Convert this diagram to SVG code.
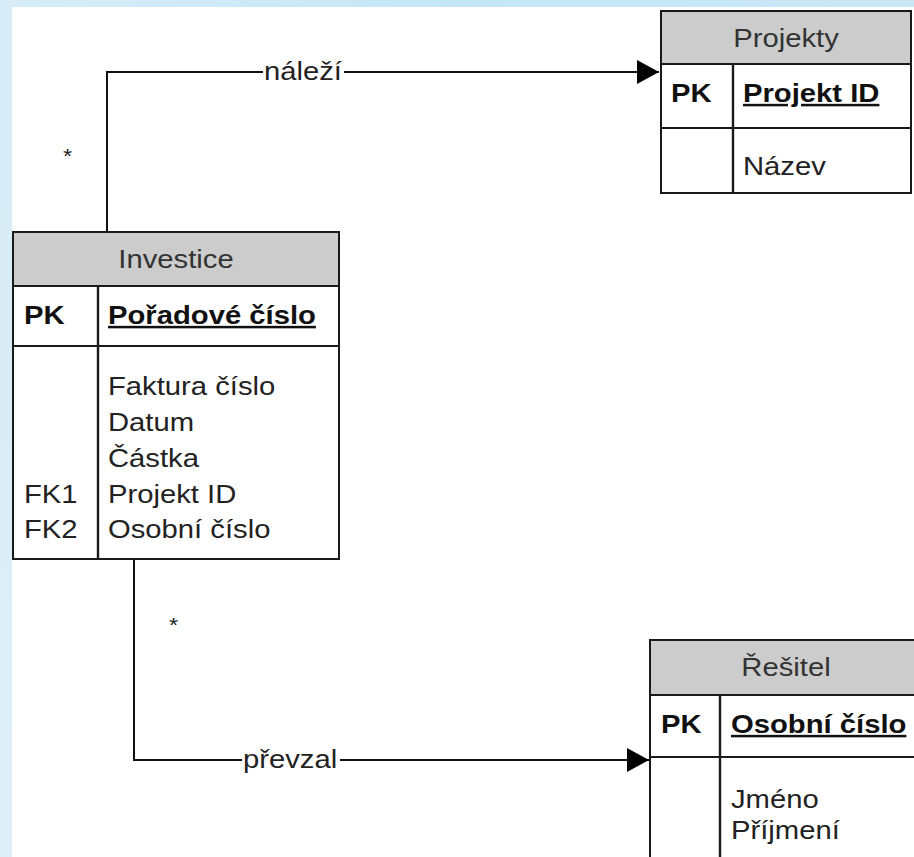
<svg xmlns="http://www.w3.org/2000/svg" width="914" height="857" viewBox="0 0 914 857">
<defs>
<linearGradient id="topbg" x1="0" y1="0" x2="1" y2="0">
<stop offset="0" stop-color="#d6edf8"/><stop offset="0.5" stop-color="#c4e7f6"/><stop offset="1" stop-color="#c9e8f6"/>
</linearGradient>
<linearGradient id="leftbg" x1="0" y1="0" x2="0" y2="1">
<stop offset="0" stop-color="#d8edf8"/><stop offset="1" stop-color="#ddeef6"/>
</linearGradient>
<marker id="arrow" markerUnits="userSpaceOnUse" markerWidth="24" markerHeight="26" refX="22" refY="12" orient="auto">
<polygon points="0,0 22,12 0,24" fill="#000"/>
</marker>
<style>
text{font-family:"Liberation Sans",Arial,sans-serif;fill:#222;font-size:25px;transform-box:fill-box;transform-origin:0% 50%;transform:scaleX(1.17);}
.hdr{fill:#cccccc;stroke:none;}
.box{fill:#fff;stroke:#1a1a1a;stroke-width:2;}
.ln{stroke:#1a1a1a;stroke-width:2;fill:none;}
.vl{stroke:#1a1a1a;stroke-width:2.4;fill:none;}
.title{text-anchor:middle;fill:#333;transform-origin:50% 50%;}
.pk{font-weight:bold;fill:#111;}
.key{font-weight:bold;text-decoration:underline;fill:#111;}
.fld{fill:#222;}
.conn{stroke:#111;stroke-width:2;fill:none;}
.lbl{fill:#222;}
.mult{font-size:20px;fill:#222;}
</style>
</defs>
<rect x="0" y="0" width="914" height="857" fill="#fff"/>
<rect x="0" y="0" width="914" height="7" fill="url(#topbg)"/>
<rect x="0" y="0" width="12" height="857" fill="url(#leftbg)"/>

<g id="connectors">
<path class="conn" d="M107,232 V72 H659" marker-end="url(#arrow)"/>
<rect x="263" y="56" width="81" height="30" fill="#fff"/>
<text class="lbl" x="264" y="80">náleží</text>
<text class="mult" x="63" y="163">*</text>
<path class="conn" d="M134,559 V760 H649" marker-end="url(#arrow)"/>
<rect x="242" y="744" width="98" height="30" fill="#fff"/>
<text class="lbl" x="243" y="768">převzal</text>
<text class="mult" x="169" y="632">*</text>
</g>

<g id="projekty">
<rect class="box" x="661" y="11" width="250" height="182"/>
<rect class="hdr" x="662" y="12" width="248" height="52"/>
<line class="ln" x1="661" y1="64" x2="911" y2="64"/>
<line class="ln" x1="661" y1="128" x2="911" y2="128"/>
<line class="vl" x1="733" y1="64" x2="733" y2="193"/>
<rect x="661" y="11" width="250" height="182" fill="none" stroke="#1a1a1a" stroke-width="2"/>
<text class="title" x="786" y="47">Projekty</text>
<text class="pk" x="671" y="102">PK</text>
<text class="key" x="743" y="102">Projekt ID</text>
<text class="fld" x="743" y="175">Název</text>
</g>

<g id="investice">
<rect class="box" x="13" y="232" width="326" height="327"/>
<rect class="hdr" x="14" y="233" width="324" height="53"/>
<line class="ln" x1="13" y1="286" x2="339" y2="286"/>
<line class="ln" x1="13" y1="346" x2="339" y2="346"/>
<line class="vl" x1="98" y1="286" x2="98" y2="559"/>
<rect x="13" y="232" width="326" height="327" fill="none" stroke="#1a1a1a" stroke-width="2"/>
<text class="title" x="176" y="268">Investice</text>
<text class="pk" x="24" y="324">PK</text>
<text class="key" x="108" y="324">Pořadové číslo</text>
<text class="fld" x="108" y="395">Faktura číslo</text>
<text class="fld" x="108" y="431">Datum</text>
<text class="fld" x="108" y="467">Částka</text>
<text class="fld" x="24" y="503">FK1</text>
<text class="fld" x="108" y="503">Projekt ID</text>
<text class="fld" x="24" y="538">FK2</text>
<text class="fld" x="108" y="538">Osobní číslo</text>
</g>

<g id="resitel">
<rect class="box" x="650" y="640" width="280" height="240"/>
<rect class="hdr" x="651" y="641" width="278" height="54"/>
<line class="ln" x1="650" y1="695" x2="930" y2="695"/>
<line class="ln" x1="650" y1="757" x2="930" y2="757"/>
<line class="vl" x1="720" y1="695" x2="720" y2="880"/>
<rect x="650" y="640" width="280" height="240" fill="none" stroke="#1a1a1a" stroke-width="2"/>
<text class="title" x="786" y="676">Řešitel</text>
<text class="pk" x="661" y="733">PK</text>
<text class="key" x="731" y="733">Osobní číslo</text>
<text class="fld" x="731" y="808">Jméno</text>
<text class="fld" x="731" y="839">Příjmení</text>
</g>
</svg>
